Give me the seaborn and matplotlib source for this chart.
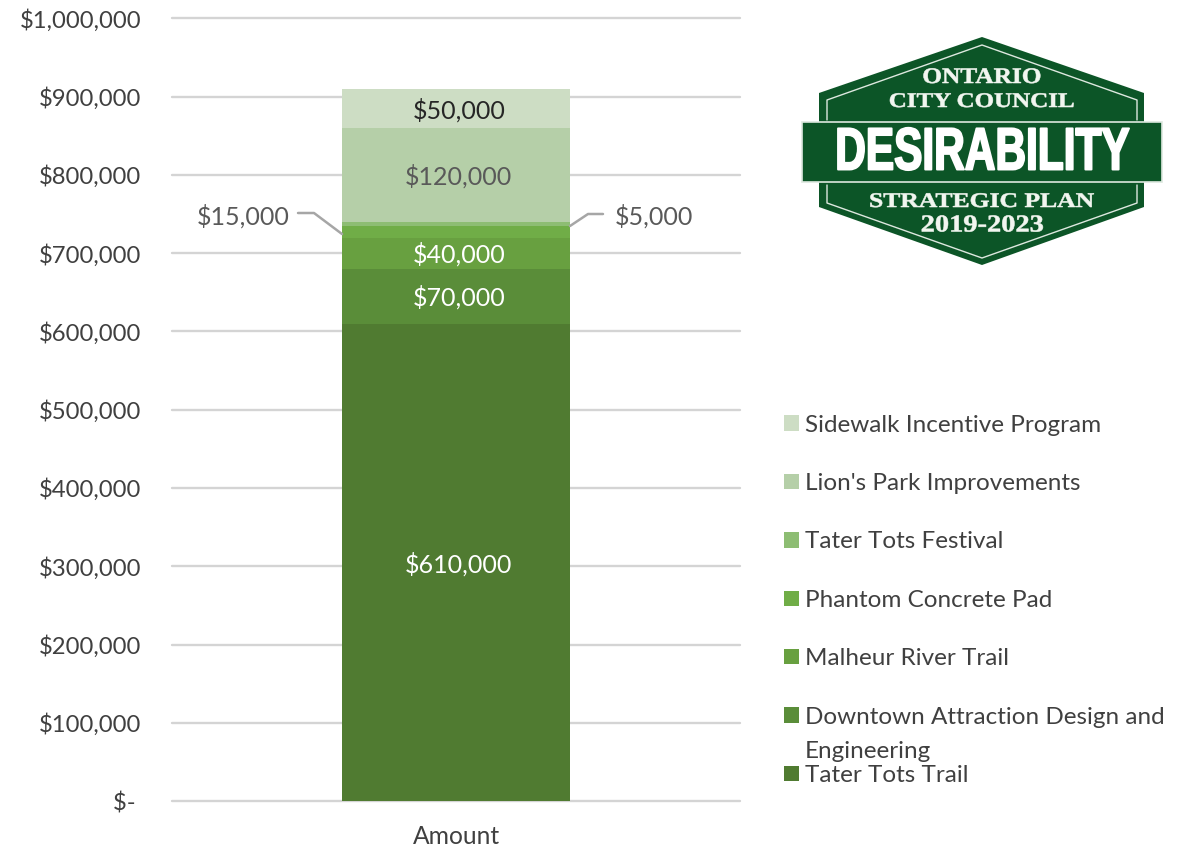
import matplotlib
matplotlib.use("Agg")
import matplotlib.pyplot as plt
from matplotlib.patches import Polygon, Rectangle
from matplotlib.patheffects import AbstractPathEffect
from matplotlib.transforms import Affine2D
import seaborn as sns

# Budget items, bottom to top of the stack
projects = ["Tater Tots Trail", "Downtown Attraction Design and", "Malheur River Trail",
            "Phantom Concrete Pad", "Tater Tots Festival", "Lion's Park Improvements",
            "Sidewalk Incentive Program"]
amounts = [610000, 70000, 40000, 15000, 5000, 120000, 50000]
colors = ["#507B31", "#5A8D39", "#68A040", "#70AD47", "#8DBD73", "#B5CFA8", "#CDDDC4"]
label_colors = ["white", "white", "white", None, None, "#595959", "#262626"]
category = ["Amount"]
ticks = [0, 100000, 200000, 300000, 400000, 500000, 600000, 700000, 800000, 900000, 1000000]
tick_labels = ["$- ", "$100,000", "$200,000", "$300,000", "$400,000", "$500,000",
               "$600,000", "$700,000", "$800,000", "$900,000", "$1,000,000"]

W, H = 1192, 847


class Stretch(AbstractPathEffect):
    # widens or narrows a text around its centre, the fonts here have no condensed cut
    def __init__(self, sx, stroke=0):
        super().__init__()
        self.sx = sx
        self.stroke = stroke

    def draw_path(self, renderer, gc, tpath, affine, rgbFace=None):
        cx = tpath.get_extents(affine).x0 + tpath.get_extents(affine).width / 2
        scaled = affine + Affine2D().translate(-cx, 0).scale(self.sx, 1).translate(cx, 0)
        gc0 = renderer.new_gc()
        gc0.copy_properties(gc)
        if self.stroke:
            gc0.set_linewidth(self.stroke)
            gc0.set_foreground(rgbFace)
        renderer.draw_path(gc0, tpath, scaled, rgbFace)
        gc0.restore()


sns.set_style("white")
plt.rcParams["font.family"] = ["Lato", "DejaVu Sans"]

fig = plt.figure(figsize=(W / 100, H / 100), dpi=100)
ax = fig.add_axes([172 / W, 1 - 801 / H, 568 / W, 782.5 / H])

bottom = 0
for name, value, color, lab_color in zip(projects, amounts, colors, label_colors):
    sns.barplot(x=category, y=[value], bottom=bottom, color=color, saturation=1,
                width=0.4, label=name, ax=ax, zorder=3, linewidth=0, edgecolor="none")
    if lab_color:
        ax.text(0.005, bottom + value / 2 - 2000, f"${value:,}", color=lab_color, fontsize=18,
                ha="center", va="center", zorder=4)
    bottom += value

ax.set_ylim(0, 1000000)
ax.set_xlim(-0.5, 0.5)
ax.set_yticks(ticks)
ax.set_yticklabels(tick_labels, fontsize=17.2, color="#404040")
ax.tick_params(axis="y", length=0, pad=22)
ax.tick_params(axis="x", length=0, pad=17, labelsize=17.7, labelcolor="#404040")
ax.grid(axis="y", color="#D4D4D4", lw=1.7, clip_on=False, zorder=0)
ax.set_axisbelow(True)
ax.set_ylabel("")
sns.despine(ax=ax, left=True, bottom=True)

# Legend, top item first. The wrapped label is finished by hand so the rows stay even
handles, labels = ax.get_legend_handles_labels()
leg = ax.legend(handles[::-1], labels[::-1], loc="upper left",
                bbox_to_anchor=(784 / W, 1 - 414.5 / H), bbox_transform=fig.transFigure,
                frameon=False, fontsize=17.5, labelcolor="#404040", handlelength=0.6,
                handleheight=0.6, handletextpad=0.25, labelspacing=1.54, borderpad=0, borderaxespad=0)

# Overlay in pixel coordinates for leader lines and the logo
over = fig.add_axes([0, 0, 1, 1], zorder=5)
over.set_xlim(0, W)
over.set_ylim(H, 0)
over.axis("off")

over.text(805, 751, "Engineering", fontsize=17.5, color="#404040", va="center")

over.plot([298, 314, 342], [213, 213, 234], color="#A6A6A6", lw=1.8)
over.plot([570, 588, 603], [226, 214, 214], color="#A6A6A6", lw=1.8)
over.text(290, 216, "$15,000", fontsize=18, color="#595959", ha="right", va="center")
over.text(615, 216, "$5,000", fontsize=18, color="#595959", ha="left", va="center")

logo_green = "#0C5527"
logo_text = "#F2F6F0"
over.add_patch(Polygon([(982, 37), (1144, 93), (1144, 207), (982, 265), (819, 207), (819, 93)],
                       closed=True, fc=logo_green, ec="none"))
over.plot([827, 827, 982, 1137, 1137], [120, 100, 45, 100, 120], color="#DDE8DF", lw=1)
over.plot([827, 827, 982, 1137, 1137], [185, 203, 258, 203, 185], color="#DDE8DF", lw=1)
over.add_patch(Rectangle((802, 122), 360, 60, fc=logo_green, ec="#DDE8DF", lw=1.2))

serif = ["Liberation Serif", "DejaVu Serif"]
logo_lines = [("ONTARIO", 78, 16, 1.14), ("CITY COUNCIL", 102, 15, 1.2),
              ("STRATEGIC PLAN", 202, 15, 1.23), ("2019-2023", 226, 17.5, 1.17)]
for line, y, size, sx in logo_lines:
    over.text(982, y, line, family=serif, weight="bold", fontsize=size, color=logo_text,
              ha="center", va="center", path_effects=[Stretch(sx, 0.4)])
over.text(982, 154, "DESIRABILITY", family="Liberation Sans", weight="bold", fontsize=43,
          color="white", ha="center", va="center", path_effects=[Stretch(0.71, 1.4)])

fig.savefig("out.png", dpi=100)
